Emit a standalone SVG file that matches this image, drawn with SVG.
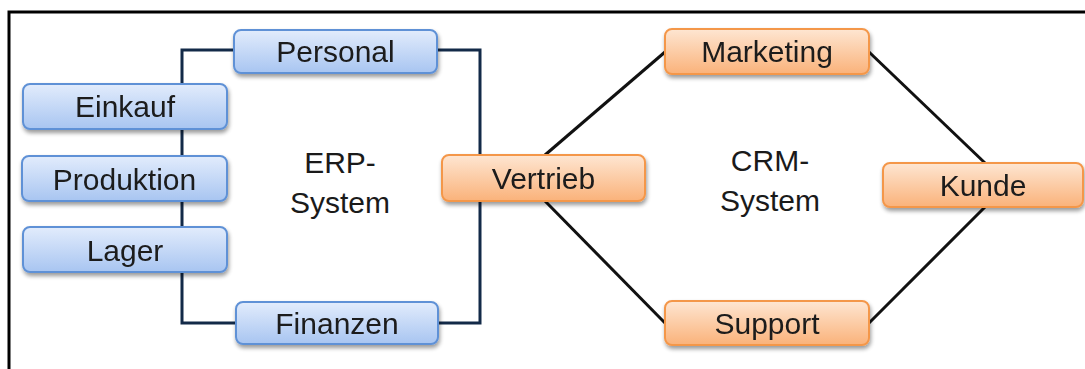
<svg xmlns="http://www.w3.org/2000/svg" width="1085" height="369" viewBox="0 0 1085 369">
  <defs>
    <linearGradient id="gBlue" x1="0" y1="0" x2="0" y2="1">
      <stop offset="0" stop-color="#e2ecfc"/>
      <stop offset="1" stop-color="#a8c5f1"/>
    </linearGradient>
    <linearGradient id="gOrange" x1="0" y1="0" x2="0" y2="1">
      <stop offset="0" stop-color="#fee6d2"/>
      <stop offset="1" stop-color="#fab27a"/>
    </linearGradient>
    <filter id="shadow" x="-10%" y="-20%" width="120%" height="160%">
      <feGaussianBlur in="SourceAlpha" stdDeviation="2"/>
      <feOffset dx="1" dy="3" result="b"/>
      <feComponentTransfer><feFuncA type="linear" slope="0.4"/></feComponentTransfer>
      <feMerge><feMergeNode/><feMergeNode in="SourceGraphic"/></feMerge>
    </filter>
  </defs>
  <style>
    .blue { fill: url(#gBlue); stroke: #5f91d6; stroke-width: 2; }
    .orange { fill: url(#gOrange); stroke: #f4974a; stroke-width: 2; }
    .lbl { font-family: "Liberation Sans", Arial, sans-serif; font-size: 30px; fill: #1a1a1a; text-anchor: middle; }
    .erp { fill: none; stroke: #132a48; stroke-width: 3; }
    .crm { fill: none; stroke: #111; stroke-width: 3; }
    .frame { fill: none; stroke: #000; stroke-width: 3; }
  </style>

  <rect width="1085" height="369" fill="#fff"/>
  <path class="frame" d="M9,369 V12 H1085"/>

  <g id="connectors">
    <!-- ERP bracket: left side -->
    <path class="erp" d="M234,50 H182 V323 H236"/>
    <!-- ERP bracket: right side -->
    <path class="erp" d="M437,50 H480 V323 H438"/>
    <!-- CRM ring -->
    <path class="crm" d="M545,155 L665,52"/>
    <path class="crm" d="M869,52 L985,163"/>
    <path class="crm" d="M545,201 L665,323"/>
    <path class="crm" d="M869,323 L985,207"/>
  </g>

  <g id="personal" filter="url(#shadow)">
    <rect class="blue" x="234" y="30" width="203" height="43" rx="7"/>
    <text class="lbl" x="335.5" y="62">Personal</text>
  </g>
  <g id="einkauf" filter="url(#shadow)">
    <rect class="blue" x="23" y="84" width="204" height="45" rx="7"/>
    <text class="lbl" x="125" y="117">Einkauf</text>
  </g>
  <g id="produktion" filter="url(#shadow)">
    <rect class="blue" x="22" y="156" width="205" height="45" rx="7"/>
    <text class="lbl" x="124.5" y="190">Produktion</text>
  </g>
  <g id="lager" filter="url(#shadow)">
    <rect class="blue" x="23" y="227" width="204" height="45" rx="7"/>
    <text class="lbl" x="125" y="261">Lager</text>
  </g>
  <g id="finanzen" filter="url(#shadow)">
    <rect class="blue" x="236" y="302" width="202" height="42" rx="7"/>
    <text class="lbl" x="337" y="334">Finanzen</text>
  </g>

  <g id="erp-label">
    <text class="lbl" x="340" y="173">ERP-</text>
    <text class="lbl" x="340" y="213">System</text>
  </g>

  <g id="vertrieb" filter="url(#shadow)">
    <rect class="orange" x="442" y="155" width="203" height="46" rx="7"/>
    <text class="lbl" x="543.5" y="189">Vertrieb</text>
  </g>
  <g id="marketing" filter="url(#shadow)">
    <rect class="orange" x="665" y="29" width="204" height="45" rx="7"/>
    <text class="lbl" x="767" y="62">Marketing</text>
  </g>
  <g id="kunde" filter="url(#shadow)">
    <rect class="orange" x="883" y="163" width="200" height="44" rx="7"/>
    <text class="lbl" x="983" y="196">Kunde</text>
  </g>
  <g id="support" filter="url(#shadow)">
    <rect class="orange" x="665" y="301" width="204" height="44" rx="7"/>
    <text class="lbl" x="767" y="334">Support</text>
  </g>

  <g id="crm-label">
    <text class="lbl" x="770" y="171">CRM-</text>
    <text class="lbl" x="770" y="211">System</text>
  </g>
</svg>
